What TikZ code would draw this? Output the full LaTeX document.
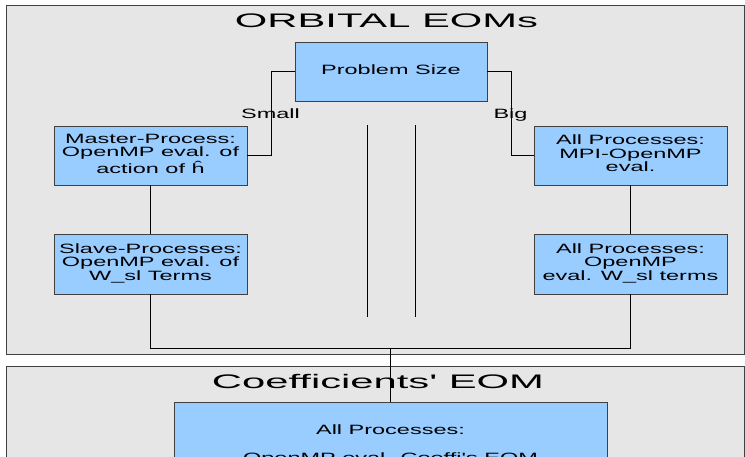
\documentclass[tikz,border=0pt]{standalone}
\usepackage{fontspec}
\setmainfont{Liberation Sans}
\usepackage{graphicx}
\definecolor{boxblue}{HTML}{99CCFF}
\definecolor{framegray}{HTML}{E6E6E6}
\definecolor{edgegray}{HTML}{404040}
\newcommand{\boxtxt}[2][13.3]{\scalebox{1.74}[1]{\fontsize{13.5}{#1}\selectfont\begin{tabular}{@{}c@{}}#2\end{tabular}}}
\newcommand{\titletxt}[1]{\scalebox{2.13}[1]{\fontsize{19.6}{20}\selectfont #1}}
\newcommand{\lbltxt}[1]{\scalebox{1.74}[1]{\fontsize{13.5}{13.3}\selectfont #1}}
\tikzset{
  framebox/.style={fill=framegray, draw=edgegray, line width=0.8pt},
  procbox/.style={draw=edgegray, fill=boxblue, line width=0.9pt, inner sep=0pt},
  link/.style={draw=black, line width=0.8pt},
  divider/.style={draw=black, line width=1pt},
  titlenode/.style={anchor=base, inner sep=0pt},
  lblnode/.style={anchor=base, inner sep=0pt}
}
\begin{document}
\begin{tikzpicture}[x=1pt,y=-1pt]
\useasboundingbox (0,0) rectangle (745,456);
\clip (0,0) rectangle (745,456);
% frames
\filldraw[framebox] (6,5) rectangle (744,354);
\filldraw[framebox] (6,366) rectangle (744,520);
% titles
\node[titlenode] (t1) at (386.5,27) {\titletxt{ORBITAL EOMs}};
\node[titlenode] (t2) at (378,388) {\titletxt{Coefficients\textquotesingle{} EOM}};
% boxes
\node[procbox, minimum width=192, minimum height=59] (ps) at (391,71.5) {\boxtxt{Problem Size}};
\node[procbox, minimum width=193, minimum height=59] (master) at (150.5,155.5) {\boxtxt{Master-Process:\\OpenMP eval. of\\action of ĥ}};
\node[procbox, minimum width=193, minimum height=59] (allmpi) at (630.5,155.5) {\boxtxt{All Processes:\\MPI-OpenMP\\eval.}};
\node[procbox, minimum width=193, minimum height=60] (slave) at (150.5,264) {\boxtxt{Slave-Processes:\\OpenMP eval. of\\W\_sl Terms}};
\node[procbox, minimum width=193, minimum height=60] (allomp) at (630.5,264) {\boxtxt{All Processes:\\OpenMP\\eval. W\_sl terms}};
\node[procbox, anchor=north, minimum width=433, minimum height=86] (coef) at (390.5,402) {\boxtxt{All Processes:\\[14pt]OpenMP eval. Coeffi\textquotesingle s EOM}};
% connector bends
\coordinate (sm) at (271,155.5);
\coordinate (bg) at (511,155.5);
\coordinate (jl) at (150.5,348);
\coordinate (jr) at (630.5,348);
\coordinate (jm) at (390.5,348);
\draw[link] (ps.west) -| (sm) -- (master.east);
\draw[link] (ps.east) -| (bg) -- (allmpi.west);
\draw[link] (master.south) -- (slave.north);
\draw[link] (allmpi.south) -- (allomp.north);
\draw[link] (slave.south) -- (jl) -- (jr) -- (allomp.south);
\draw[link] (jm) -- (coef.north);
% labels
\node[lblnode] (small) at (270.5,118.5) {\lbltxt{Small}};
\node[lblnode] (big) at (510.5,118.5) {\lbltxt{Big}};
% dividers
\coordinate (d1a) at (367,125);
\coordinate (d1b) at (367,317);
\coordinate (d2a) at (415,125);
\coordinate (d2b) at (415,317);
\draw[divider] (d1a) -- (d1b);
\draw[divider] (d2a) -- (d2b);
\end{tikzpicture}
\end{document}
